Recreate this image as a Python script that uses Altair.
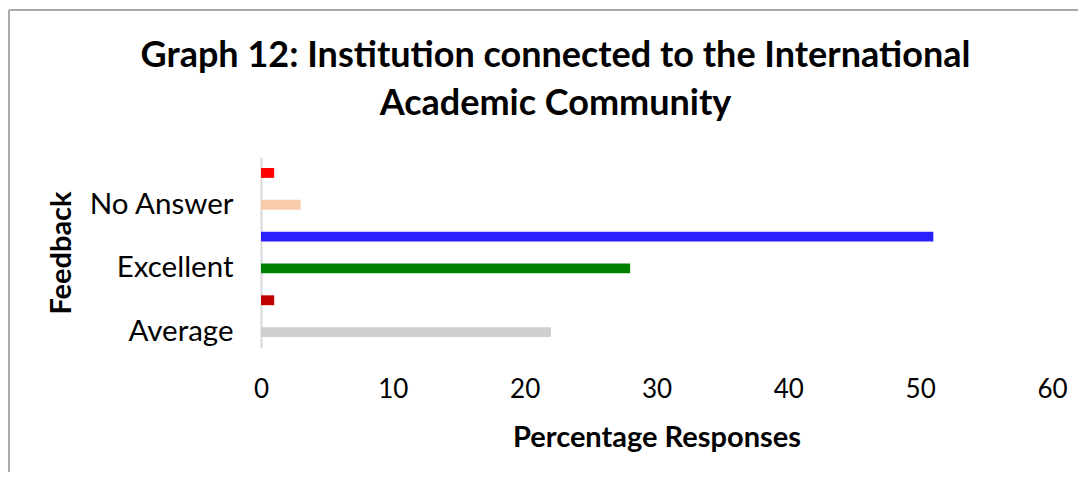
import altair as alt
import pandas as pd

categories = ["Average", "Below Average", "Excellent", "Good", "No Answer", "Poor"]
values = [22, 1, 28, 51, 3, 1]
colors = ["#d0cece", "#c00000", "#008000", "#2a20ff", "#f8cbad", "#ff0000"]
shown_labels = ["Average", "Excellent", "No Answer"]
x_ticks = [0, 10, 20, 30, 40, 50, 60]

df = pd.DataFrame({"Feedback": categories, "Value": values, "Color": colors})

FONT = "Lato"
label_expr = "indexof(" + str(shown_labels) + ", datum.value) >= 0 ? datum.value : ''"

bars = alt.Chart(df).mark_bar().encode(
    x=alt.X("Value:Q",
            scale=alt.Scale(domain=[0, 60], nice=False),
            axis=alt.Axis(values=x_ticks, title="Percentage Responses", grid=False,
                          domain=False, ticks=False, labelFontSize=26, labelFont=FONT,
                          labelPadding=28, labelColor="#000000", labelFlush=False,
                          titleFont=FONT, titleFontSize=29, titleFontWeight="bold",
                          titlePadding=21, titleColor="#000000")),
    y=alt.Y("Feedback:N", sort=categories[::-1],
            scale=alt.Scale(paddingInner=0.69, paddingOuter=0.345),
            axis=alt.Axis(title="Feedback", labelExpr=label_expr, ticks=False,
                          domain=True, domainColor="#d9d9d9", domainWidth=2,
                          labelFontSize=29.5, labelFont=FONT, labelPadding=28,
                          labelColor="#000000",
                          titleFont=FONT, titleFontSize=29, titleFontWeight="bold",
                          titlePadding=12, titleColor="#000000")),
    color=alt.Color("Color:N", scale=None, legend=None),
)

border = alt.Chart(df).mark_rule(color="#aaaaaa", strokeWidth=1.5).encode(
    x=alt.value(-252), x2=alt.value(841), y=alt.value(-147)
)
border_left = alt.Chart(df).mark_rule(color="#aaaaaa", strokeWidth=1.5).encode(
    x=alt.value(-252), y=alt.value(-147), y2=alt.value(316)
)

chart = alt.layer(bars, border, border_left).properties(
    width=791, height=191,
    title=alt.TitleParams(
        ["Graph 12: Institution connected to the International", "Academic Community"],
        font=FONT, fontSize=36, fontWeight="bold", color="#000000",
        anchor="middle", frame="bounds", lineHeight=48, offset=-114,
    ),
    autosize=alt.AutoSizeParams(type="none"),
    padding={"left": 253, "top": 149, "right": 26, "bottom": 124},
).configure_view(stroke=None)

chart.save("out.html", embed_options={"renderer": "svg", "actions": False})
